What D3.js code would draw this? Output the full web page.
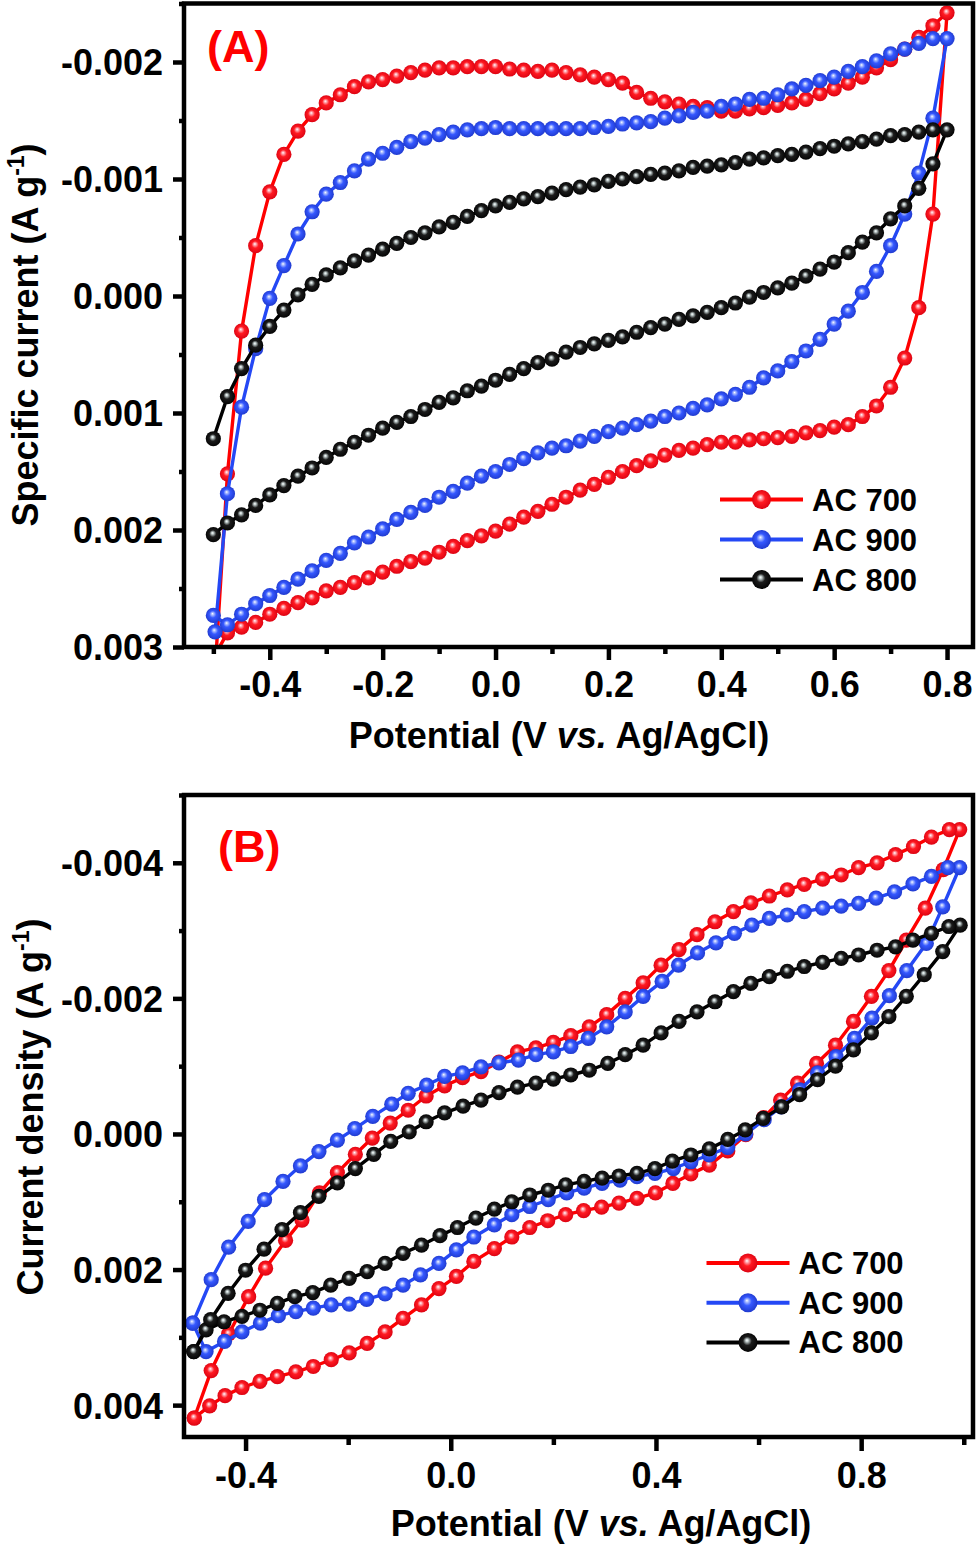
<!DOCTYPE html>
<html>
<head>
<meta charset="utf-8">
<script src="https://cdn.jsdelivr.net/npm/d3@7"></script>
<style>
html, body { margin: 0; padding: 0; background: #fff; }
svg { display: block; }
text { font-family: "Liberation Sans", Arial, sans-serif; font-weight: bold; }
</style>
</head>
<body>
<svg id="chart" width="980" height="1546"></svg>
<script>
"use strict";

// legend order and colours
var seriesNames = ["AC 700", "AC 900", "AC 800"];
var lineColors = ["#ff0000", "#2448f5", "#000000"];
var ballColors = [
    {light: "#ffb8c0", base: "#ff1a22", dark: "#d80010"},
    {light: "#b8c8ff", base: "#3558ff", dark: "#1d36c8"},
    {light: "#c8d4d4", base: "#1c1c1c", dark: "#000000"}
];

// ---- panel A : ticks ----
var potentialTicksA = [-0.4, -0.2, 0.0, 0.2, 0.4, 0.6, 0.8];
var potentialMinorA = [-0.5, -0.3, -0.1, 0.1, 0.3, 0.5, 0.7];
var currentTicksA = [-0.002, -0.001, 0.000, 0.001, 0.002, 0.003];
var currentMinorA = [-0.0025, -0.0015, -0.0005, 0.0005, 0.0015, 0.0025];

// ---- panel A : [potential V, current A/g] ----
var ac700A = [
    [-0.495, 0.00305], [-0.475, 0.00288], [-0.45, 0.00283], [-0.425, 0.00279], [-0.40, 0.00272],
    [-0.375, 0.00267], [-0.35, 0.00262], [-0.325, 0.00258], [-0.30, 0.00252], [-0.275, 0.00249],
    [-0.25, 0.00245], [-0.225, 0.00241], [-0.20, 0.00236], [-0.175, 0.00231], [-0.15, 0.00227],
    [-0.125, 0.00224], [-0.10, 0.00219], [-0.075, 0.00214], [-0.05, 0.00209], [-0.025, 0.00205],
    [0.0, 0.00201], [0.025, 0.00195], [0.05, 0.00189], [0.075, 0.00184], [0.10, 0.00178],
    [0.125, 0.00172], [0.15, 0.00166], [0.175, 0.00161], [0.20, 0.00155], [0.225, 0.00150],
    [0.25, 0.00145], [0.275, 0.00141], [0.30, 0.00136], [0.325, 0.00132], [0.35, 0.00130],
    [0.375, 0.00127], [0.40, 0.00125], [0.425, 0.00125], [0.45, 0.00123], [0.475, 0.00122],
    [0.50, 0.00121], [0.525, 0.00120], [0.55, 0.00117], [0.575, 0.00115], [0.60, 0.00112],
    [0.625, 0.00110], [0.65, 0.00103], [0.675, 0.00094], [0.70, 0.00078], [0.725, 0.00053],
    [0.75, 0.00010], [0.775, -0.00070], [0.80, -0.00242],
    [0.775, -0.00231], [0.75, -0.00221], [0.725, -0.00211], [0.70, -0.00202], [0.675, -0.00195],
    [0.65, -0.00187], [0.625, -0.00182], [0.60, -0.00177], [0.575, -0.00173], [0.55, -0.00168],
    [0.525, -0.00165], [0.50, -0.00163], [0.475, -0.00161], [0.45, -0.00160], [0.425, -0.00158],
    [0.40, -0.00158], [0.375, -0.00161], [0.35, -0.00162], [0.325, -0.00164], [0.30, -0.00166],
    [0.275, -0.00169], [0.25, -0.00174], [0.225, -0.00182], [0.20, -0.00185], [0.175, -0.00187],
    [0.15, -0.00189], [0.125, -0.00191], [0.10, -0.00193], [0.075, -0.00192], [0.05, -0.00193],
    [0.025, -0.00194], [0.0, -0.00196], [-0.025, -0.00196], [-0.05, -0.00196], [-0.075, -0.00195],
    [-0.10, -0.00195], [-0.125, -0.00193], [-0.15, -0.00191], [-0.175, -0.00188], [-0.20, -0.00185],
    [-0.225, -0.00183], [-0.25, -0.00179], [-0.275, -0.00172], [-0.30, -0.00165], [-0.325, -0.00155],
    [-0.35, -0.00141], [-0.375, -0.00121], [-0.40, -0.00089], [-0.425, -0.00043], [-0.45, 0.00030],
    [-0.475, 0.00152], [-0.495, 0.00305]
];

var ac900A = [
    [-0.50, 0.00273], [-0.475, 0.00281], [-0.45, 0.00272], [-0.425, 0.00263], [-0.40, 0.00256],
    [-0.375, 0.00249], [-0.35, 0.00242], [-0.325, 0.00235], [-0.30, 0.00226], [-0.275, 0.00220],
    [-0.25, 0.00211], [-0.225, 0.00206], [-0.20, 0.00199], [-0.175, 0.00191], [-0.15, 0.00185],
    [-0.125, 0.00179], [-0.10, 0.00172], [-0.075, 0.00167], [-0.05, 0.00160], [-0.025, 0.00154],
    [0.0, 0.00150], [0.025, 0.00144], [0.05, 0.00139], [0.075, 0.00134], [0.10, 0.00130],
    [0.125, 0.00128], [0.15, 0.00124], [0.175, 0.00120], [0.20, 0.00116], [0.225, 0.00113],
    [0.25, 0.00110], [0.275, 0.00107], [0.30, 0.00103], [0.325, 0.00100], [0.35, 0.00096],
    [0.375, 0.00093], [0.40, 0.00088], [0.425, 0.00084], [0.45, 0.00078], [0.475, 0.00070],
    [0.50, 0.00064], [0.525, 0.00056], [0.55, 0.00047], [0.575, 0.00037], [0.60, 0.00024],
    [0.625, 0.00013], [0.65, -0.00003], [0.675, -0.00021], [0.70, -0.00043], [0.725, -0.00070],
    [0.75, -0.00105], [0.775, -0.00152], [0.80, -0.00220],
    [0.775, -0.00220], [0.75, -0.00216], [0.725, -0.00211], [0.70, -0.00207], [0.675, -0.00201],
    [0.65, -0.00196], [0.625, -0.00192], [0.60, -0.00187], [0.575, -0.00184], [0.55, -0.00180],
    [0.525, -0.00177], [0.50, -0.00172], [0.475, -0.00169], [0.45, -0.00168], [0.425, -0.00164],
    [0.40, -0.00162], [0.375, -0.00158], [0.35, -0.00157], [0.325, -0.00154], [0.30, -0.00152],
    [0.275, -0.00149], [0.25, -0.00148], [0.225, -0.00147], [0.20, -0.00145], [0.175, -0.00144],
    [0.15, -0.00143], [0.125, -0.00143], [0.10, -0.00143], [0.075, -0.00143], [0.05, -0.00143],
    [0.025, -0.00143], [0.0, -0.00144], [-0.025, -0.00143], [-0.05, -0.00142], [-0.075, -0.00140],
    [-0.10, -0.00138], [-0.125, -0.00135], [-0.15, -0.00132], [-0.175, -0.00127], [-0.20, -0.00122],
    [-0.225, -0.00117], [-0.25, -0.00107], [-0.275, -0.00097], [-0.30, -0.00087], [-0.325, -0.00072],
    [-0.35, -0.00053], [-0.375, -0.00026], [-0.40, 0.00002], [-0.425, 0.00045], [-0.45, 0.00095],
    [-0.475, 0.00169], [-0.497, 0.00287]
];

var ac800A = [
    [-0.50, 0.00204], [-0.475, 0.00194], [-0.45, 0.00187], [-0.425, 0.00179], [-0.40, 0.00170],
    [-0.375, 0.00162], [-0.35, 0.00154], [-0.325, 0.00147], [-0.30, 0.00138], [-0.275, 0.00131],
    [-0.25, 0.00125], [-0.225, 0.00119], [-0.20, 0.00113], [-0.175, 0.00108], [-0.15, 0.00103],
    [-0.125, 0.00097], [-0.10, 0.00091], [-0.075, 0.00087], [-0.05, 0.00081], [-0.025, 0.00077],
    [0.0, 0.00072], [0.025, 0.00067], [0.05, 0.00062], [0.075, 0.00057], [0.10, 0.00054],
    [0.125, 0.00048], [0.15, 0.00044], [0.175, 0.00041], [0.20, 0.00038], [0.225, 0.00035],
    [0.25, 0.00031], [0.275, 0.00027], [0.30, 0.00024], [0.325, 0.00020], [0.35, 0.00017],
    [0.375, 0.00014], [0.40, 0.00010], [0.425, 0.00006], [0.45, 0.00001], [0.475, -0.00003],
    [0.50, -0.00007], [0.525, -0.00011], [0.55, -0.00017], [0.575, -0.00023], [0.60, -0.00029],
    [0.625, -0.00037], [0.65, -0.00046], [0.675, -0.00054], [0.70, -0.00066], [0.725, -0.00077],
    [0.75, -0.00092], [0.775, -0.00113], [0.80, -0.00142],
    [0.775, -0.00142], [0.75, -0.00140], [0.725, -0.00138], [0.70, -0.00137], [0.675, -0.00134],
    [0.65, -0.00132], [0.625, -0.00130], [0.60, -0.00128], [0.575, -0.00126], [0.55, -0.00123],
    [0.525, -0.00121], [0.50, -0.00120], [0.475, -0.00118], [0.45, -0.00117], [0.425, -0.00114],
    [0.40, -0.00112], [0.375, -0.00111], [0.35, -0.00110], [0.325, -0.00107], [0.30, -0.00105],
    [0.275, -0.00104], [0.25, -0.00102], [0.225, -0.00100], [0.20, -0.00098], [0.175, -0.00095],
    [0.15, -0.00093], [0.125, -0.00091], [0.10, -0.00088], [0.075, -0.00085], [0.05, -0.00083],
    [0.025, -0.00080], [0.0, -0.00077], [-0.025, -0.00073], [-0.05, -0.00068], [-0.075, -0.00063],
    [-0.10, -0.00059], [-0.125, -0.00054], [-0.15, -0.00050], [-0.175, -0.00045], [-0.20, -0.00040],
    [-0.225, -0.00035], [-0.25, -0.00030], [-0.275, -0.00024], [-0.30, -0.00018], [-0.325, -0.00010],
    [-0.35, -0.00001], [-0.375, 0.00012], [-0.40, 0.00026], [-0.425, 0.00042], [-0.45, 0.00062],
    [-0.475, 0.00086], [-0.50, 0.00122]
];

// ---- panel B : ticks ----
var potentialTicksB = [-0.4, 0.0, 0.4, 0.8];
var potentialMinorB = [-0.2, 0.2, 0.6, 1.0];
var currentTicksB = [-0.004, -0.002, 0.000, 0.002, 0.004];
var currentMinorB = [-0.005, -0.003, -0.001, 0.001, 0.003];

// ---- panel B : [potential V, current A/g] ----
var ac700B = [
    [-0.500, 0.00419], [-0.470, 0.00401], [-0.440, 0.00386], [-0.407, 0.00374], [-0.372, 0.00365],
    [-0.338, 0.00358], [-0.302, 0.00351], [-0.268, 0.00343], [-0.233, 0.00333], [-0.198, 0.00323],
    [-0.163, 0.00309], [-0.128, 0.00292], [-0.093, 0.00272], [-0.057, 0.00252], [-0.023, 0.00228],
    [0.011, 0.00210], [0.045, 0.00188], [0.085, 0.00169], [0.119, 0.00152], [0.154, 0.00138],
    [0.189, 0.00128], [0.224, 0.00119], [0.259, 0.00113], [0.294, 0.00108], [0.328, 0.00102],
    [0.363, 0.00095], [0.399, 0.00087], [0.433, 0.00073], [0.468, 0.00059], [0.504, 0.00046],
    [0.540, 0.00025], [0.575, 0.00001], [0.610, -0.00024], [0.643, -0.00050], [0.676, -0.00075],
    [0.713, -0.00104], [0.750, -0.00131], [0.785, -0.00166], [0.820, -0.00203], [0.854, -0.00241],
    [0.888, -0.00286], [0.925, -0.00333], [0.960, -0.00390], [0.992, -0.00449],
    [0.972, -0.00449], [0.937, -0.00438], [0.902, -0.00424], [0.867, -0.00412], [0.831, -0.00400],
    [0.795, -0.00393], [0.761, -0.00382], [0.725, -0.00376], [0.689, -0.00368], [0.656, -0.00360],
    [0.621, -0.00351], [0.585, -0.00341], [0.551, -0.00328], [0.515, -0.00313], [0.480, -0.00294],
    [0.445, -0.00272], [0.410, -0.00249], [0.375, -0.00223], [0.340, -0.00200], [0.304, -0.00176],
    [0.270, -0.00158], [0.234, -0.00145], [0.200, -0.00135], [0.166, -0.00127], [0.130, -0.00121],
    [0.094, -0.00106], [0.059, -0.00092], [0.023, -0.00083], [-0.012, -0.00071], [-0.048, -0.00056],
    [-0.083, -0.00035], [-0.118, -0.00016], [-0.153, 0.00006], [-0.186, 0.00030], [-0.221, 0.00057],
    [-0.256, 0.00087], [-0.290, 0.00127], [-0.322, 0.00157], [-0.361, 0.00198], [-0.394, 0.00240],
    [-0.433, 0.00295], [-0.467, 0.00349], [-0.500, 0.00419]
];

var ac900B = [
    [-0.503, 0.00279], [-0.477, 0.00321], [-0.441, 0.00306], [-0.407, 0.00292], [-0.371, 0.00279],
    [-0.336, 0.00268], [-0.302, 0.00262], [-0.268, 0.00257], [-0.233, 0.00252], [-0.198, 0.00251],
    [-0.164, 0.00244], [-0.128, 0.00236], [-0.093, 0.00223], [-0.059, 0.00208], [-0.023, 0.00191],
    [0.011, 0.00171], [0.045, 0.00152], [0.085, 0.00134], [0.119, 0.00119], [0.154, 0.00107],
    [0.190, 0.00097], [0.226, 0.00087], [0.260, 0.00080], [0.295, 0.00073], [0.330, 0.00068],
    [0.363, 0.00063], [0.398, 0.00058], [0.434, 0.00051], [0.468, 0.00041], [0.504, 0.00031],
    [0.540, 0.00020], [0.575, 0.00000], [0.611, -0.00021], [0.644, -0.00040], [0.680, -0.00065],
    [0.715, -0.00090], [0.751, -0.00114], [0.787, -0.00141], [0.821, -0.00171], [0.855, -0.00204],
    [0.889, -0.00241], [0.927, -0.00281], [0.959, -0.00335], [0.992, -0.00393],
    [0.969, -0.00393], [0.937, -0.00380], [0.901, -0.00369], [0.865, -0.00357], [0.829, -0.00348],
    [0.795, -0.00340], [0.761, -0.00336], [0.725, -0.00333], [0.689, -0.00328], [0.656, -0.00323],
    [0.621, -0.00318], [0.587, -0.00308], [0.553, -0.00296], [0.517, -0.00282], [0.481, -0.00267],
    [0.444, -0.00249], [0.412, -0.00225], [0.375, -0.00203], [0.340, -0.00180], [0.304, -0.00158],
    [0.268, -0.00141], [0.234, -0.00129], [0.200, -0.00121], [0.166, -0.00117], [0.132, -0.00109],
    [0.094, -0.00105], [0.059, -0.00099], [0.023, -0.00090], [-0.012, -0.00085], [-0.047, -0.00072],
    [-0.083, -0.00060], [-0.115, -0.00044], [-0.152, -0.00026], [-0.187, -0.00008], [-0.221, 0.00009],
    [-0.257, 0.00026], [-0.293, 0.00047], [-0.327, 0.00070], [-0.363, 0.00097], [-0.395, 0.00129],
    [-0.433, 0.00167], [-0.467, 0.00215], [-0.503, 0.00279]
];

var ac800B = [
    [-0.501, 0.00321], [-0.477, 0.00289], [-0.442, 0.00277], [-0.407, 0.00269], [-0.372, 0.00260],
    [-0.338, 0.00250], [-0.304, 0.00240], [-0.269, 0.00234], [-0.234, 0.00223], [-0.198, 0.00213],
    [-0.163, 0.00203], [-0.128, 0.00191], [-0.093, 0.00176], [-0.057, 0.00164], [-0.021, 0.00150],
    [0.013, 0.00138], [0.049, 0.00124], [0.085, 0.00111], [0.119, 0.00100], [0.154, 0.00090],
    [0.190, 0.00083], [0.224, 0.00075], [0.260, 0.00070], [0.295, 0.00065], [0.328, 0.00062],
    [0.363, 0.00058], [0.398, 0.00051], [0.432, 0.00040], [0.468, 0.00031], [0.504, 0.00022],
    [0.540, 0.00008], [0.574, -0.00006], [0.609, -0.00023], [0.645, -0.00040], [0.680, -0.00058],
    [0.715, -0.00080], [0.750, -0.00100], [0.785, -0.00124], [0.820, -0.00149], [0.854, -0.00173],
    [0.888, -0.00203], [0.923, -0.00235], [0.959, -0.00269], [0.993, -0.00308],
    [0.971, -0.00306], [0.937, -0.00296], [0.901, -0.00286], [0.867, -0.00276], [0.831, -0.00271],
    [0.795, -0.00264], [0.761, -0.00259], [0.725, -0.00253], [0.689, -0.00247], [0.656, -0.00240],
    [0.621, -0.00232], [0.585, -0.00222], [0.551, -0.00210], [0.515, -0.00195], [0.480, -0.00180],
    [0.445, -0.00166], [0.410, -0.00149], [0.375, -0.00131], [0.340, -0.00117], [0.306, -0.00104],
    [0.270, -0.00094], [0.234, -0.00087], [0.200, -0.00081], [0.166, -0.00075], [0.130, -0.00069],
    [0.094, -0.00061], [0.059, -0.00050], [0.024, -0.00041], [-0.012, -0.00031], [-0.048, -0.00018],
    [-0.081, -0.00003], [-0.117, 0.00011], [-0.150, 0.00030], [-0.186, 0.00051], [-0.221, 0.00072],
    [-0.257, 0.00092], [-0.293, 0.00116], [-0.329, 0.00141], [-0.364, 0.00170], [-0.400, 0.00201],
    [-0.434, 0.00235], [-0.468, 0.00274], [-0.501, 0.00321]
];

var svg = d3.select("#chart");
var defs = svg.append("defs");

// shaded "ball" markers
ballColors.forEach(function (c, i) {
    var grad = defs.append("radialGradient")
        .attr("id", "ball" + i)
        .attr("cx", "50%").attr("cy", "50%").attr("r", "55%")
        .attr("fx", "44%").attr("fy", "38%");
    grad.append("stop").attr("offset", "0%").attr("stop-color", "#ffffff");
    grad.append("stop").attr("offset", "12%").attr("stop-color", c.light);
    grad.append("stop").attr("offset", "42%").attr("stop-color", c.base);
    grad.append("stop").attr("offset", "100%").attr("stop-color", c.dark);
});

var drawPanel = function (p) {
    var g = svg.append("g");
    var x = d3.scaleLinear().domain(p.xDomain).range([p.left, p.right]);
    var y = d3.scaleLinear().domain(p.yDomain).range([p.top, p.bottom]);

    defs.append("clipPath").attr("id", "clip" + p.id)
        .append("rect")
        .attr("x", p.left).attr("y", p.top)
        .attr("width", p.right - p.left).attr("height", p.bottom - p.top);

    var plot = g.append("g").attr("clip-path", "url(#clip" + p.id + ")");
    var line = d3.line()
        .x(function (d) { return x(d[0]); })
        .y(function (d) { return y(d[1]); });

    p.series.forEach(function (s, i) {
        var sg = plot.append("g");
        sg.append("path")
            .datum(s)
            .attr("d", line)
            .attr("fill", "none")
            .attr("stroke", lineColors[i])
            .attr("stroke-width", 3.4)
            .attr("stroke-linejoin", "round");
        sg.selectAll("circle")
            .data(s)
            .enter()
            .append("circle")
            .attr("cx", function (d) { return x(d[0]); })
            .attr("cy", function (d) { return y(d[1]); })
            .attr("r", 7.6)
            .attr("fill", "url(#ball" + i + ")");
    });

    // axes
    var xAxis = g.append("g").attr("transform", "translate(0," + p.bottom + ")")
        .call(d3.axisBottom(x).tickValues(p.xTicks).tickSize(p.xTickLen).tickFormat(function (d) { return d.toFixed(1); }));
    xAxis.selectAll("text")
        .attr("dy", 0)
        .attr("y", p.xLabelBaseline - p.bottom)
        .style("font-size", "36px");
    g.append("g").attr("transform", "translate(0," + p.bottom + ")")
        .call(d3.axisBottom(x).tickValues(p.xMinor).tickSize(p.xTickLen - 6).tickFormat(""));

    var yAxis = g.append("g").attr("transform", "translate(" + p.left + ",0)")
        .call(d3.axisLeft(y).tickValues(p.yTicks).tickSize(11).tickPadding(10).tickFormat(function (d) { return d.toFixed(3); }));
    yAxis.selectAll("text")
        .attr("dy", "0.36em")
        .style("font-size", "36px");
    g.append("g").attr("transform", "translate(" + p.left + ",0)")
        .call(d3.axisLeft(y).tickValues(p.yMinor).tickSize(5).tickFormat(""));

    g.selectAll(".domain").remove();
    g.selectAll(".tick line").attr("stroke", "#000").attr("stroke-width", 4.5);
    g.selectAll(".tick text").attr("fill", "#000");

    g.append("rect")
        .attr("x", p.left).attr("y", p.top)
        .attr("width", p.right - p.left).attr("height", p.bottom - p.top)
        .attr("fill", "none")
        .attr("stroke", "#000")
        .attr("stroke-width", 4.5);

    // axis titles
    var xt = g.append("text")
        .attr("x", p.xTitleX).attr("y", p.xTitleY)
        .attr("text-anchor", "middle")
        .style("font-size", "36px");
    xt.append("tspan").text("Potential (V ");
    xt.append("tspan").style("font-style", "italic").text("vs.");
    xt.append("tspan").text(" Ag/AgCl)");

    var yt = g.append("text")
        .attr("transform", "translate(" + p.yTitleX + "," + p.yTitleY + ") rotate(-90)")
        .attr("text-anchor", "middle")
        .style("font-size", "36px");
    yt.append("tspan").text(p.yTitle + " (A g");
    yt.append("tspan").attr("dy", -14).style("font-size", "23px").text("-1");
    yt.append("tspan").attr("dy", 14).text(")");

    g.append("text")
        .attr("x", p.labelX).attr("y", p.labelY)
        .attr("fill", "#ff0000")
        .style("font-size", "45px")
        .text(p.label);

    // legend
    var rows = g.selectAll(".legend-entry")
        .data(seriesNames)
        .enter()
        .append("g")
        .attr("class", "legend-entry")
        .attr("transform", function (d, i) { return "translate(" + p.legendX + "," + (p.legendY + i * p.legendStep) + ")"; });
    rows.append("line")
        .attr("x1", 0).attr("x2", 83)
        .attr("stroke", function (d, i) { return lineColors[i]; })
        .attr("stroke-width", 4);
    rows.append("circle")
        .attr("cx", 41.5).attr("r", 9.5)
        .attr("fill", function (d, i) { return "url(#ball" + i + ")"; });
    rows.append("text")
        .attr("x", 92).attr("y", 11)
        .style("font-size", "31px")
        .text(function (d) { return d; });
};

drawPanel({
    id: "A", label: "(A)", labelX: 207, labelY: 62,
    left: 184, right: 973, top: 3.5, bottom: 647,
    xDomain: [-0.552, 0.846], yDomain: [-0.0025, 0.003],
    xTicks: potentialTicksA, xMinor: potentialMinorA,
    yTicks: currentTicksA, yMinor: currentMinorA,
    xTickLen: 13, xLabelBaseline: 697,
    xTitleX: 559, xTitleY: 748,
    yTitle: "Specific current", yTitleX: 38, yTitleY: 335,
    legendX: 720, legendY: 499.5, legendStep: 40,
    series: [ac700A, ac900A, ac800A]
});

drawPanel({
    id: "B", label: "(B)", labelX: 218, labelY: 862,
    left: 184, right: 973, top: 795, bottom: 1437,
    xDomain: [-0.52, 1.018], yDomain: [-0.005, 0.00447],
    xTicks: potentialTicksB, xMinor: potentialMinorB,
    yTicks: currentTicksB, yMinor: currentMinorB,
    xTickLen: 14, xLabelBaseline: 1488,
    xTitleX: 601, xTitleY: 1536,
    yTitle: "Current density", yTitleX: 43, yTitleY: 1107,
    legendX: 706.5, legendY: 1263, legendStep: 39.7,
    series: [ac700B, ac900B, ac800B]
});
</script>
</body>
</html>
